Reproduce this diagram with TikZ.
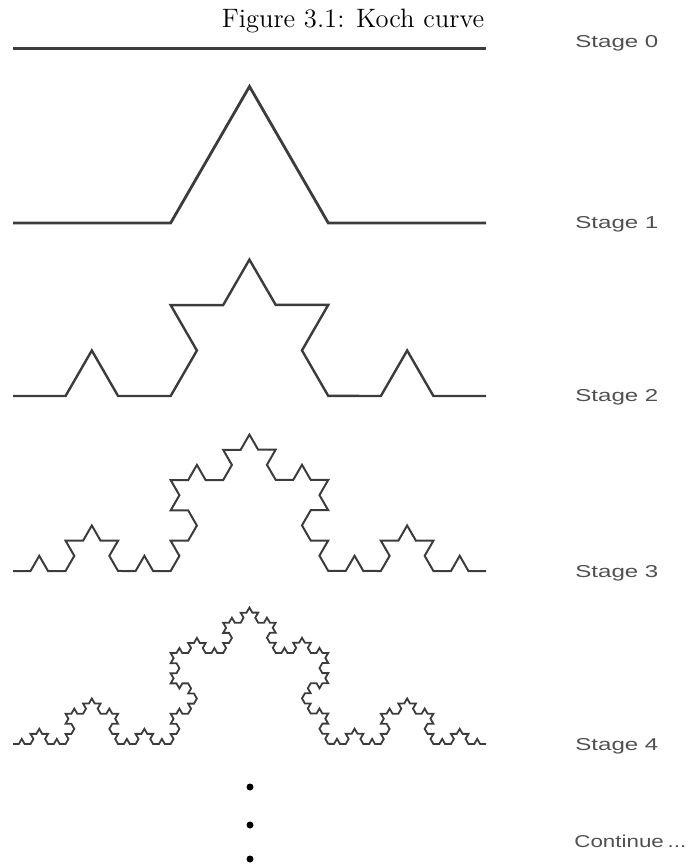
\documentclass[tikz,border=0pt]{standalone}
\usepackage{fontspec}
\newfontfamily\labelfont{Liberation Sans}
\usetikzlibrary{decorations.fractals}
\definecolor{curvegray}{HTML}{3C3C3C}
\definecolor{labelgray}{HTML}{505050}
\tikzset{
  kochline/.style={draw=curvegray, line join=miter, decoration={Koch snowflake}},
  stagelabel/.style={anchor=base west, inner sep=0pt, text=labelgray,
    font=\labelfont\fontsize{8.6}{10}\selectfont},
  dotmark/.style={fill=black, circle, inner sep=0pt, minimum size=3.5pt}
}
\newcommand{\widetext}[1]{\scalebox{1.4}[1]{#1}}
\begin{document}
\begin{tikzpicture}[x=0.5pt, y=-0.5pt]
  \useasboundingbox (0,0) rectangle (688,864);
  \node[anchor=base, inner sep=0pt, font=\fontsize{13.3}{16}\selectfont] (title) at (353,27) {Figure 3.1: Koch curve};
  % stage 0
  \coordinate (s0a) at (13,48); \coordinate (s0b) at (486,48);
  \draw[kochline, line width=1.5pt] (s0a) -- (s0b);
  % stage 1
  \coordinate (s1a) at (13,223); \coordinate (s1b) at (486,223);
  \draw[kochline, line width=1.4pt] decorate{(s1a) -- (s1b)};
  % stage 2
  \coordinate (s2a) at (13,396); \coordinate (s2b) at (486,396);
  \draw[kochline, line width=1.2pt] decorate{decorate{(s2a) -- (s2b)}};
  % stage 3
  \coordinate (s3a) at (13,571); \coordinate (s3b) at (486,571);
  \draw[kochline, line width=1.0pt] decorate{decorate{decorate{(s3a) -- (s3b)}}};
  % stage 4
  \coordinate (s4a) at (13,744); \coordinate (s4b) at (486,744);
  \draw[kochline, line width=0.9pt] decorate{decorate{decorate{decorate{(s4a) -- (s4b)}}}};
  % labels
  \node[stagelabel] (l0) at (575,47) {\widetext{Stage 0}};
  \node[stagelabel] (l1) at (575,228) {\widetext{Stage 1}};
  \node[stagelabel] (l2) at (575,401) {\widetext{Stage 2}};
  \node[stagelabel] (l3) at (575,577) {\widetext{Stage 3}};
  \node[stagelabel] (l4) at (575,750) {\widetext{Stage 4}};
  \node[stagelabel] (l5) at (574,847) {\scalebox{1.3}[1]{Continue\,...}};
  % dots
  \node[dotmark] (d1) at (250,787) {};
  \node[dotmark] (d2) at (250,825) {};
  \node[dotmark] (d3) at (250,859) {};
\end{tikzpicture}
\end{document}
